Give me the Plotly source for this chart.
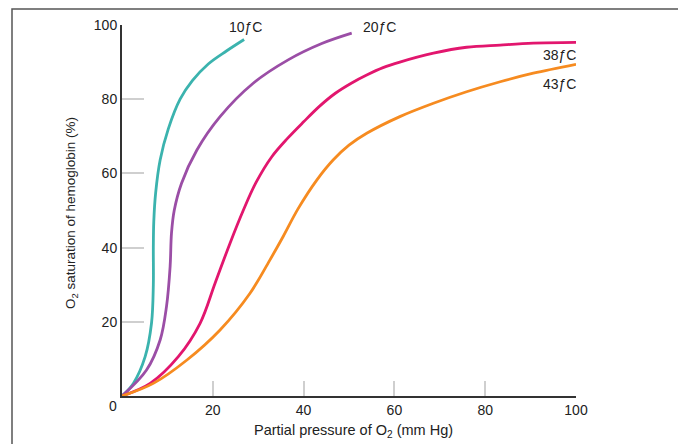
import plotly.graph_objects as go

# Oxygen-hemoglobin dissociation curves at several temperatures
series_names = ["10ƒC", "20ƒC", "38ƒC", "43ƒC"]

p10 = [0, 2.5, 5.1, 6.5, 6.9, 6.9, 7.0, 7.4, 8.4, 10.2, 12.8, 15.5, 19.0, 23.0, 26.9]
s10 = [0, 3.4, 10.6, 19.6, 30.0, 40.0, 47.0, 54.6, 63.6, 72.0, 80.0, 85.0, 89.5, 93.0, 96.1]

p20 = [0, 5.4, 8.4, 9.8, 10.6, 10.9, 11.5, 13.1, 16.5, 21.6, 28.9, 36.6, 44.0, 50.6]
s20 = [0, 7.0, 15.1, 24.1, 34.9, 43.9, 50.0, 57.3, 66.3, 75.3, 84.3, 90.6, 95.0, 97.8]

p38 = [0, 6.2, 12.4, 17.2, 20.5, 23.8, 26.7, 29.5, 33.0, 36.5, 40.0, 43.6, 47.0, 50.5, 53.9, 57.5, 61.2, 68.6, 75.9, 83.3, 90.6, 100]
s38 = [0, 3.4, 10.6, 19.6, 30.4, 41.2, 50.0, 57.5, 64.5, 69.5, 73.9, 78.2, 81.6, 84.3, 86.5, 88.5, 90.0, 92.4, 94.0, 94.6, 95.1, 95.3]

p43 = [0, 6.9, 14.3, 21.6, 28.2, 32.5, 35.5, 38.8, 42.9, 46.5, 50.0, 53.9, 61.2, 68.6, 75.9, 83.3, 90.6, 100]
s43 = [0, 3.4, 9.7, 17.8, 27.7, 36.5, 43.0, 50.5, 58.2, 63.6, 67.6, 70.8, 75.3, 78.9, 82.0, 84.7, 87.0, 89.4]

tick_vals = [20, 40, 60, 80, 100]
tick_text = ["20", "40", "60", "80", "100"]

colors = ["#3bb3ae", "#9b4ea6", "#e2166e", "#f68b20"]
xs = [p10, p20, p38, p43]
ys = [s10, s20, s38, s43]

fig = go.Figure()
for name, x, y, c in zip(series_names, xs, ys, colors):
    fig.add_trace(go.Scatter(x=x, y=y, mode="lines", name=name,
                             line=dict(color=c, width=2.8, shape="spline", smoothing=1.0),
                             showlegend=False, hoverinfo="skip"))

font_family = "Liberation Sans, Arial, sans-serif"
OFF = 8  # page body margin in the browser
W, H = 686, 444
# plot area in page pixels: x 122..576, y 25..396
L = 122 - OFF
T = 25 - OFF
R = W - (576 - OFF)
B = H - (396 - OFF)
pw, ph = W - L - R, H - T - B

def fx(px):
    return (px - OFF - L) / pw

def fy(py):
    return (H - B - (py - OFF)) / ph

fig.update_layout(
    width=W, height=H,
    margin=dict(l=L, r=R, t=T, b=B, pad=0, autoexpand=False),
    paper_bgcolor="white", plot_bgcolor="white",
    font=dict(family=font_family, size=14, color="#222"),
    xaxis=dict(range=[0, 100], showgrid=False, zeroline=False, automargin=False,
               showline=True, linecolor="#333", linewidth=2,
               tickvals=tick_vals, ticktext=tick_text,
               ticks="inside", ticklen=15, tickcolor="#cfcfcf", tickwidth=1.5,
               ticklabelstandoff=0,
               tickfont=dict(size=14, color="#222")),
    yaxis=dict(range=[0, 100], showgrid=False, zeroline=False, automargin=False,
               showline=True, linecolor="#333", linewidth=2,
               tickvals=tick_vals, ticktext=tick_text,
               ticks="inside", ticklen=22, tickcolor="#cfcfcf", tickwidth=1.5,
               ticklabelstandoff=0,
               tickfont=dict(size=14, color="#222")),
)

def ann(px, py, text, size=14, xanchor="center", angle=0):
    return dict(x=fx(px), y=fy(py), xref="paper", yref="paper", text=text,
                showarrow=False, xanchor=xanchor, yanchor="middle", textangle=angle,
                font=dict(size=size, color="#222"))

annotations = [
    ann(113, 406, "0"),
    ann(353, 431, "Partial pressure of O<sub>2</sub> (mm Hg)", size=14.5),
    ann(72, 213, "O<sub>2</sub> saturation of hemoglobin (%)", size=13.5, angle=-90),
    ann(245, 27, series_names[0]),
    ann(379, 27, series_names[1]),
    ann(578, 55, series_names[2], xanchor="right"),
    ann(578, 84, series_names[3], xanchor="right"),
]
fig.update_layout(annotations=annotations)

# outer frame of the figure panel
fig.add_shape(type="rect", xref="paper", yref="paper",
              x0=fx(12), x1=fx(679), y0=fy(470), y1=fy(9),
              line=dict(color="#555", width=1.5), fillcolor="rgba(0,0,0,0)", layer="above")

fig.write_html("out.html")
